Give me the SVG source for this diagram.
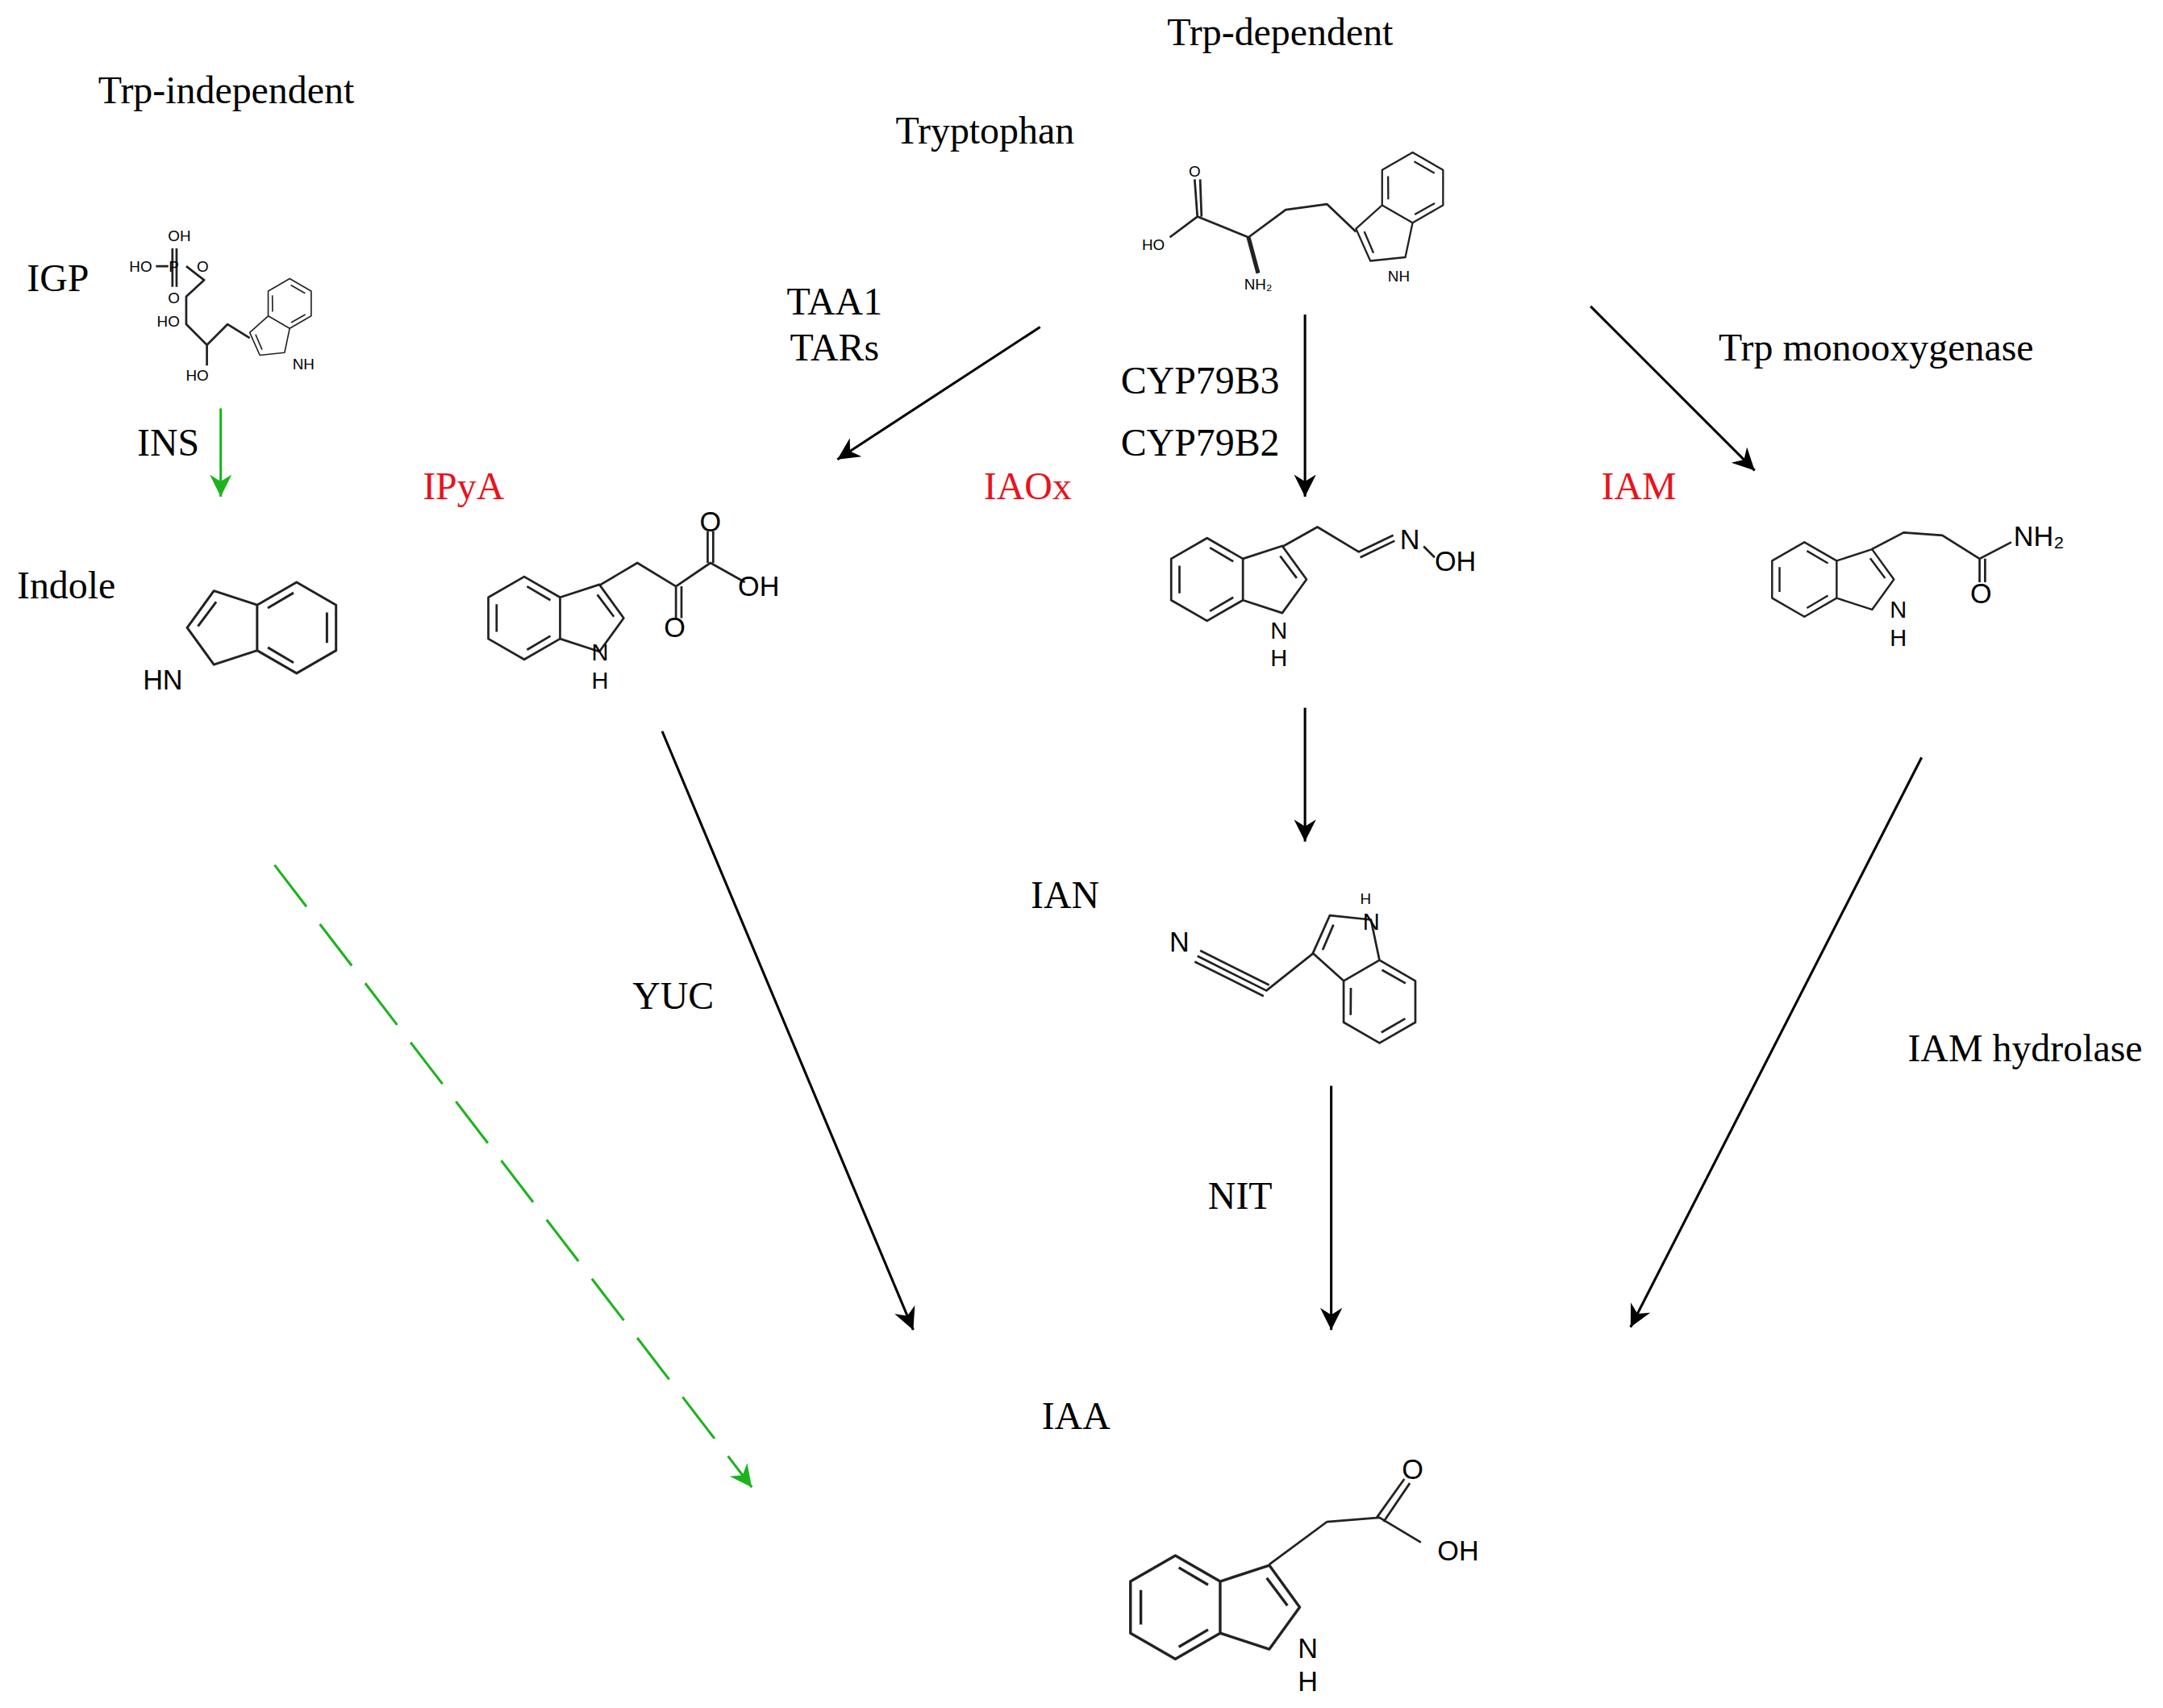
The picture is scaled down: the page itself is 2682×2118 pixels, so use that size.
<svg xmlns="http://www.w3.org/2000/svg" xmlns:xlink="http://www.w3.org/1999/xlink" width="2682" height="2118" viewBox="0 0 2682 2118">
<style>
.t{font-family:"Liberation Serif",serif;font-size:28px;fill:#000;text-anchor:middle}
.r{fill:#e8141c}
.a{font-family:"Liberation Sans",sans-serif;font-size:20px;fill:#000;text-anchor:middle}
.h{font-family:"Liberation Sans",sans-serif;font-size:17px;fill:#000;text-anchor:middle}
.s{font-family:"Liberation Sans",sans-serif;font-size:11px;fill:#000;text-anchor:middle}
.m{fill:none;stroke:#222;stroke-width:1.6;stroke-linejoin:round}
.c{fill:none;stroke:#000;stroke-width:1.8}
.g{fill:none;stroke:#1db31d;stroke-width:1.8}
</style>
<defs>
<marker id="ah" markerUnits="userSpaceOnUse" markerWidth="20" markerHeight="20" refX="16" refY="8" orient="auto"><path d="M0,0 L16,8 L0,16 L5,8 Z" fill="#000"/></marker>
<marker id="gh" markerUnits="userSpaceOnUse" markerWidth="20" markerHeight="20" refX="16" refY="8" orient="auto"><path d="M0,0 L16,8 L0,16 L5,8 Z" fill="#1db31d"/></marker>
<g id="ind">
<path d="M26,-15 L0,-30 L-26,-15 L-26,15 L0,30 L26,15 Z M26,-15 L54.5,-24.3 L72.1,0 L54.5,24.3 L26,15"/>
<path d="M19,-13 L2,-23 M-20,-10 L-20,10 M2,23 L19,13 M53,-17 L65,-1"/>
</g>
</defs>
<rect width="2682" height="2118" fill="#fff"/>
<g transform="scale(1.7105,1.7108)">
<g id="labels">
<text class="t" x="928" y="33">Trp-dependent</text>
<text class="t" x="164" y="75">Trp-independent</text>
<text class="t" x="714" y="104">Tryptophan</text>
<text class="t" x="42" y="211">IGP</text>
<text class="t" x="605" y="228">TAA1</text>
<text class="t" x="605" y="261">TARs</text>
<text class="t" x="870" y="285">CYP79B3</text>
<text class="t" x="870" y="330">CYP79B2</text>
<text class="t" x="1360" y="261">Trp monooxygenase</text>
<text class="t" x="122" y="330">INS</text>
<text class="t r" x="336" y="362">IPyA</text>
<text class="t r" x="745" y="362">IAOx</text>
<text class="t r" x="1188" y="362">IAM</text>
<text class="t" x="48" y="434">Indole</text>
<text class="t" x="772" y="658">IAN</text>
<text class="t" x="488" y="731">YUC</text>
<text class="t" x="1468" y="769">IAM hydrolase</text>
<text class="t" x="899" y="876">NIT</text>
<text class="t" x="780" y="1036">IAA</text>
</g>
<g id="connectors">
<line class="c" x1="754" y1="237" x2="607" y2="333" marker-end="url(#ah)"/>
<line class="c" x1="946" y1="228" x2="946" y2="360" marker-end="url(#ah)"/>
<line class="c" x1="1153" y1="222" x2="1272" y2="341" marker-end="url(#ah)"/>
<line class="g" x1="160" y1="296" x2="160" y2="360" marker-end="url(#gh)"/>
<line class="c" x1="946" y1="513" x2="946" y2="610" marker-end="url(#ah)"/>
<line class="c" x1="965" y1="787" x2="965" y2="964" marker-end="url(#ah)"/>
<line class="c" x1="480" y1="530" x2="662" y2="964" marker-end="url(#ah)"/>
<line class="c" x1="1393" y1="549" x2="1182" y2="962" marker-end="url(#ah)"/>
<line class="g" x1="199" y1="627" x2="545" y2="1078" stroke-dasharray="38,16" marker-end="url(#gh)"/>
</g>
<g id="tryptophan" class="m">
<use xlink:href="#ind" transform="translate(1024,136) rotate(120) scale(0.85,-0.85)"/>
<path d="M983,168 L962,148 L932,152 L905,172 L868,157 L866,130 M871,157 L870,130 M868,157 L848,172"/>
<path d="M905,172 L912,198" stroke-width="3"/>
<text class="s" stroke="none" x="866" y="128">O</text>
<text class="s" stroke="none" x="836" y="181">HO</text>
<text class="s" stroke="none" x="912" y="210">NH₂</text>
<text class="s" stroke="none" x="1014" y="204">NH</text>
</g>
<g id="igp" class="m">
<use xlink:href="#ind" transform="translate(210,220) rotate(120) scale(0.6,-0.6)"/>
<path d="M181,245 L165,235 L150,250 L150,265 M150,250 L135,235 L135,215 L148,203 L135,193 M125,180 L125,208 M128,180 L128,208 M113,193 L122,193"/>
<text class="s" stroke="none" x="130" y="175">OH</text>
<text class="s" stroke="none" x="102" y="197">HO</text>
<text class="s" stroke="none" x="126" y="197">P</text>
<text class="s" stroke="none" x="147" y="197">O</text>
<text class="s" stroke="none" x="126" y="220">O</text>
<text class="s" stroke="none" x="122" y="237">HO</text>
<text class="s" stroke="none" x="143" y="276">HO</text>
<text class="s" stroke="none" x="220" y="268">NH</text>
</g>
<g id="indole" class="m">
<use xlink:href="#ind" transform="translate(215,455) scale(-1.1,1.1)"/>
<text class="a" stroke="none" x="118" y="500">HN</text>
</g>
<g id="ipya" class="m">
<use xlink:href="#ind" transform="translate(380,448)"/>
<path d="M435,424 L462,408 L490,425 L515,408 L540,422 M490,425 L490,448 M494,425 L494,448 M513,408 L513,385 M517,408 L517,385"/>
<text class="a" stroke="none" x="515" y="385">O</text>
<text class="a" stroke="none" x="550" y="432">OH</text>
<text class="a" stroke="none" x="489" y="462">O</text>
<text class="h" stroke="none" x="435" y="479">N</text>
<text class="h" stroke="none" x="435" y="499">H</text>
</g>
<g id="iaox" class="m">
<use xlink:href="#ind" transform="translate(875,420)"/>
<path d="M930,396 L955,382 L985,400 L1010,388 M986,404 L1011,392 M1032,396 L1040,404"/>
<text class="a" stroke="none" x="1022" y="398">N</text>
<text class="a" stroke="none" x="1055" y="414">OH</text>
<text class="h" stroke="none" x="927" y="463">N</text>
<text class="h" stroke="none" x="927" y="483">H</text>
</g>
<g id="iam" class="m">
<use xlink:href="#ind" transform="translate(1308,420) scale(0.9)"/>
<path d="M1357,398 L1380,386 L1408,388 L1435,405 L1458,393 M1435,405 L1435,422 M1439,405 L1439,422"/>
<text class="a" stroke="none" x="1478" y="396">NH₂</text>
<text class="a" stroke="none" x="1436" y="437">O</text>
<text class="h" stroke="none" x="1376" y="448">N</text>
<text class="h" stroke="none" x="1376" y="468">H</text>
</g>
<g id="ian" class="m">
<use xlink:href="#ind" transform="translate(1000,726) rotate(-120)"/>
<path d="M952,691 L918,718 L868,693 M920,714 L870,689 M916,722 L866,697"/>
<text class="a" stroke="none" x="855" y="690">N</text>
<text class="h" stroke="none" x="994" y="674">N</text>
<text class="s" stroke="none" x="990" y="655">H</text>
</g>
<g id="iaa" class="m">
<use xlink:href="#ind" transform="translate(852,1165) scale(1.25)"/>
<path d="M920,1134 L962,1103 L1000,1100 L1030,1118 M998,1100 L1018,1072 M1003,1103 L1022,1075"/>
<text class="a" stroke="none" x="1024" y="1072">O</text>
<text class="a" stroke="none" x="1057" y="1131">OH</text>
<text class="a" stroke="none" x="948" y="1202">N</text>
<text class="a" stroke="none" x="948" y="1226">H</text>
</g>
</g>
</svg>
